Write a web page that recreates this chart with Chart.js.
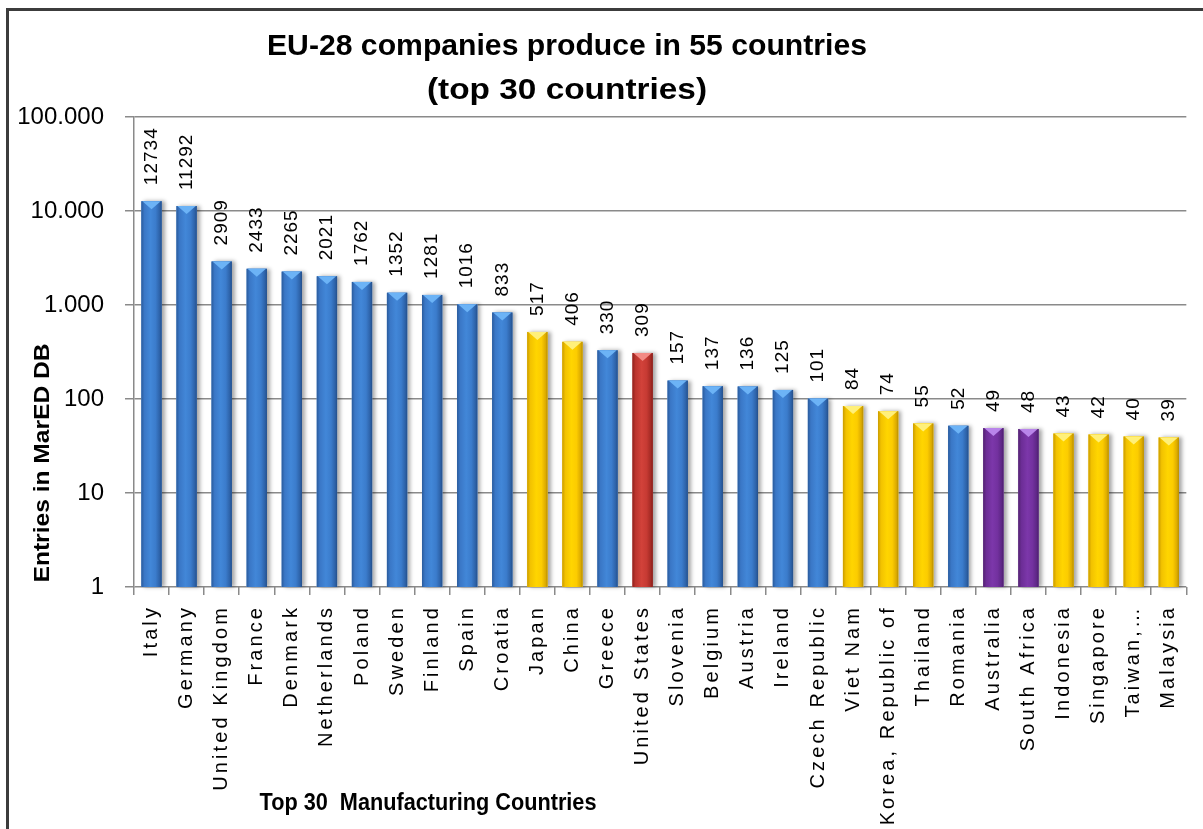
<!DOCTYPE html>
<html>
<head>
<meta charset="utf-8">
<script src="https://cdn.jsdelivr.net/npm/chart.js@4.4.1/dist/chart.umd.min.js"></script>
<style>
  html, body { margin: 0; padding: 0; background: #fff; overflow: hidden; }
  #wrap { position: relative; width: 1203px; height: 829px; }
  #frame { position: absolute; left: 6px; top: 8px; width: 1300px; height: 900px;
           border-left: 3px solid #3c3c3c; border-top: 3px solid #3c3c3c; pointer-events: none; }
  canvas { position: absolute; left: 0; top: 0; }
</style>
</head>
<body>
<div id="wrap">
  <canvas id="chart" width="1203" height="829"></canvas>
  <div id="frame"></div>
</div>
<script>
// data
const countries = ['Italy','Germany','United Kingdom','France','Denmark','Netherlands','Poland','Sweden',
  'Finland','Spain','Croatia','Japan','China','Greece','United States','Slovenia','Belgium','Austria',
  'Ireland','Czech Republic','Viet Nam','Korea, Republic of','Thailand','Romania','Australia',
  'South Africa','Indonesia','Singapore','Taiwan,…','Malaysia'];
const entries = [12734,11292,2909,2433,2265,2021,1762,1352,1281,1016,833,517,406,330,309,157,137,136,
  125,101,84,74,55,52,49,48,43,42,40,39];
const groups = ['EU','EU','EU','EU','EU','EU','EU','EU','EU','EU','EU','Asia','Asia','EU','America',
  'EU','EU','EU','EU','EU','Asia','Asia','Asia','EU','Other','Other','Asia','Asia','Asia','Asia'];
const yTicks = [1, 10, 100, 1000, 10000, 100000];

const titleLines = ['EU-28 companies produce in 55 countries', '(top 30 countries)'];
const yTitle = 'Entries in MarED DB';
const xTitle = 'Top 30  Manufacturing Countries';

// colours: base, gradient stops across the column, cap
const palette = {
  EU:      { base: '#3b7ccc', stops: ['#2a5b9c','#3a77c6','#4287d8','#3b7ccc','#2d62a8','#244f8a'], cap: '#6cb3f6' },
  Asia:    { base: '#ffcc00', stops: ['#c99b00','#f2c200','#ffd500','#fccc00','#dcab00','#b58c00'], cap: '#fff07a' },
  America: { base: '#c63a33', stops: ['#8e211c','#bb342d','#d2423a','#c63a33','#a42a24','#841d19'], cap: '#f38a84' },
  Other:   { base: '#7030a0', stops: ['#52226f','#6c2d96','#7c37aa','#73319f','#5e2786','#4b1d6b'], cap: '#b985ea' }
};
const stopPos = [0, 0.15, 0.45, 0.7, 0.9, 1];

const FONT = '"Liberation Sans", Arial, sans-serif';

function fmtThousands(v) {
  return String(v).replace(/\B(?=(\d{3})+(?!\d))/g, '.');
}

// draw a line of text squeezed/stretched to a given width
function fitText(ctx, text, x, y, width, font) {
  ctx.save();
  ctx.font = font;
  const w = ctx.measureText(text).width;
  ctx.translate(x, y);
  ctx.scale(width / w, 1);
  ctx.textAlign = 'center';
  ctx.fillText(text, 0, 0);
  ctx.restore();
}

const columnLook = {
  id: 'columnLook',
  afterUpdate(chart) {
    // letter spacing on the category labels (like the original rotated text)
    const s = chart.scales.x;
    if (!s._spaced) {
      const orig = s.drawLabels.bind(s);
      s.drawLabels = function (area) {
        chart.ctx.save();
        chart.ctx.letterSpacing = '3.1px';
        orig(area);
        chart.ctx.restore();
      };
      s._spaced = true;
    }
  },
  beforeDatasetsDraw(chart) {
    const ctx = chart.ctx;
    const meta = chart.getDatasetMeta(0);
    ctx.save();
    ctx.shadowColor = 'rgba(0,0,0,0.35)';
    ctx.shadowBlur = 4;
    ctx.shadowOffsetX = 3;
    ctx.shadowOffsetY = 0;
    ctx.fillStyle = '#ffffff';
    meta.data.forEach(bar => {
      ctx.fillRect(bar.x - bar.width / 2, bar.y, bar.width, bar.base - bar.y);
    });
    ctx.restore();
  },
  afterDatasetsDraw(chart) {
    const ctx = chart.ctx;
    const meta = chart.getDatasetMeta(0);
    ctx.save();
    meta.data.forEach((bar, i) => {
      const p = palette[groups[i]];
      const l = bar.x - bar.width / 2, r = bar.x + bar.width / 2;
      const g = ctx.createLinearGradient(l, 0, r, 0);
      p.stops.forEach((c, k) => g.addColorStop(stopPos[k], c));
      ctx.fillStyle = g;
      ctx.fillRect(l, bar.y, bar.width, bar.base - bar.y);
      // lighter cap on top of the column
      ctx.beginPath();
      ctx.moveTo(l + 1, bar.y);
      ctx.lineTo(r - 1, bar.y);
      ctx.lineTo(bar.x, bar.y + 8);
      ctx.closePath();
      ctx.fillStyle = p.cap;
      ctx.fill();
      // value label
      ctx.save();
      ctx.translate(bar.x, bar.y - 16);
      ctx.rotate(-Math.PI / 2);
      ctx.font = '19px ' + FONT;
      ctx.letterSpacing = '1px';
      ctx.fillStyle = '#000';
      ctx.textAlign = 'left';
      ctx.textBaseline = 'middle';
      ctx.fillText(String(entries[i]), 0, 0);
      ctx.restore();
    });
    ctx.restore();
  },
  afterDraw(chart) {
    const ctx = chart.ctx;
    ctx.save();
    ctx.fillStyle = '#000';
    ctx.textBaseline = 'alphabetic';
    fitText(ctx, titleLines[0], 567, 55, 600, 'bold 30px ' + FONT);
    fitText(ctx, titleLines[1], 567, 99, 280, 'bold 30px ' + FONT);
    fitText(ctx, xTitle, 428, 810, 337, 'bold 23px ' + FONT);
    ctx.save();
    ctx.translate(49, 463);
    ctx.rotate(-Math.PI / 2);
    fitText(ctx, yTitle, 0, 0, 239, 'bold 22px ' + FONT);
    ctx.restore();
    ctx.restore();
  }
};

new Chart(document.getElementById('chart'), {
  type: 'bar',
  data: {
    labels: countries,
    datasets: [{
      data: entries,
      backgroundColor: groups.map(g => palette[g].base),
      borderWidth: 0,
      barPercentage: 0.58,
      categoryPercentage: 1
    }]
  },
  options: {
    responsive: false,
    animation: false,
    layout: { padding: { top: 117, right: 13, left: 0, bottom: 0 } },
    plugins: { legend: { display: false }, tooltip: { enabled: false }, title: { display: false } },
    scales: {
      x: {
        type: 'category',
        afterFit: s => { s.height = 242; },
        grid: { offset: true, drawOnChartArea: false, drawTicks: true, tickLength: 8, color: '#8a8a8a', lineWidth: 1.5 },
        border: { display: false },
        ticks: { color: '#000', font: { family: FONT, size: 20 }, minRotation: 90, maxRotation: 90, autoSkip: false, padding: 10 }
      },
      y: {
        type: 'logarithmic',
        min: 1,
        max: 100000,
        afterFit: s => { s.width = 134; },
        afterBuildTicks: s => { s.ticks = yTicks.map(v => ({ value: v })); },
        grid: { color: '#8a8a8a', lineWidth: 1.5, tickLength: 9 },
        border: { display: true, color: '#8a8a8a', width: 1.5 },
        ticks: { color: '#000', font: { family: FONT, size: 24 }, padding: 21, callback: v => fmtThousands(v) }
      }
    }
  },
  plugins: [columnLook]
});
</script>
</body>
</html>
